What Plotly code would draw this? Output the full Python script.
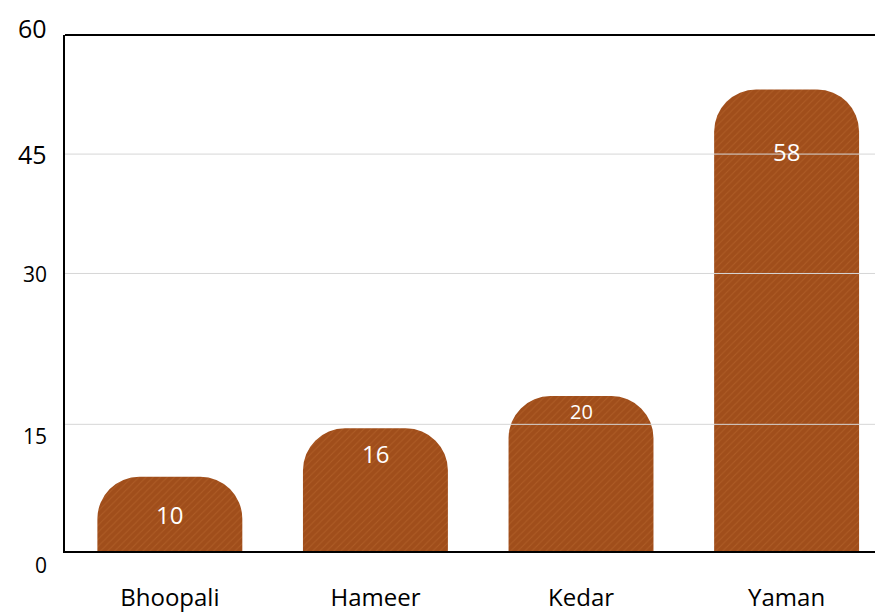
import plotly.graph_objects as go

categories = ["Bhoopali", "Hameer", "Kedar", "Yaman"]
values = [10, 16, 20, 58]
tick_labels = ["0", "15", "30", "45", "60"]

fig = go.Figure()
fig.add_trace(go.Bar(
    x=categories, y=values,
    width=0.705,
    marker=dict(
        color="rgb(160,78,27)",
        line=dict(width=0),
        pattern=dict(shape="/", fgcolor="rgb(205,125,62)", fgopacity=0.3,
                     size=5, solidity=0.2, fillmode="overlay"),
    ),
    hoverinfo="skip",
))

# value labels inside the bars (offset below the top as in the picture)
label_style = [(38, 24), (25, 24), (15, 20), (62, 24)]
for cat, v, (off, fs) in zip(categories, values, label_style):
    fig.add_annotation(x=cat, y=v, yref="y", yshift=-off, text=str(v),
                       showarrow=False, font=dict(size=fs, color="white", family="Open Sans"))

# gridlines drawn above the bars, as in the reference
grid_vals = [16.5, 35.2, 50.0]
for gv in grid_vals:
    fig.add_shape(type="line", xref="paper", yref="y", x0=0, x1=1, y0=gv, y1=gv,
                  line=dict(color="#d6d6d6", width=1), layer="above")
# top frame line
fig.add_shape(type="line", xref="paper", yref="paper", x0=0, x1=1, y0=1, y1=1,
              line=dict(color="black", width=2), layer="above")

# y tick labels (placed as in the picture, paper coords)
label_pos = [(-0.027, 21), (0.222, 21), (0.537, 21), (0.770, 25), (1.013, 25)]
for txt, (yp, fs) in zip(tick_labels, label_pos):
    fig.add_annotation(x=0, xref="paper", xanchor="right", xshift=-16,
                       y=yp, yref="paper", yanchor="middle", text=txt, showarrow=False,
                       font=dict(size=fs, color="black", family="Open Sans"))

fig.update_layout(
    width=875, height=613,
    margin=dict(l=65, r=0, t=35, b=57),
    paper_bgcolor="white", plot_bgcolor="white",
    barcornerradius=42,
    showlegend=False,
    xaxis=dict(range=[-0.51, 3.43], showline=True, linecolor="black", linewidth=2,
               showgrid=False, ticks="", ticklabelstandoff=24,
               tickfont=dict(size=24, color="black", family="Open Sans")),
    yaxis=dict(range=[0.8, 64.76], showline=True, linecolor="black", linewidth=2,
               showgrid=False, showticklabels=False, ticks="", zeroline=False),
)

fig.write_html("out.html")
